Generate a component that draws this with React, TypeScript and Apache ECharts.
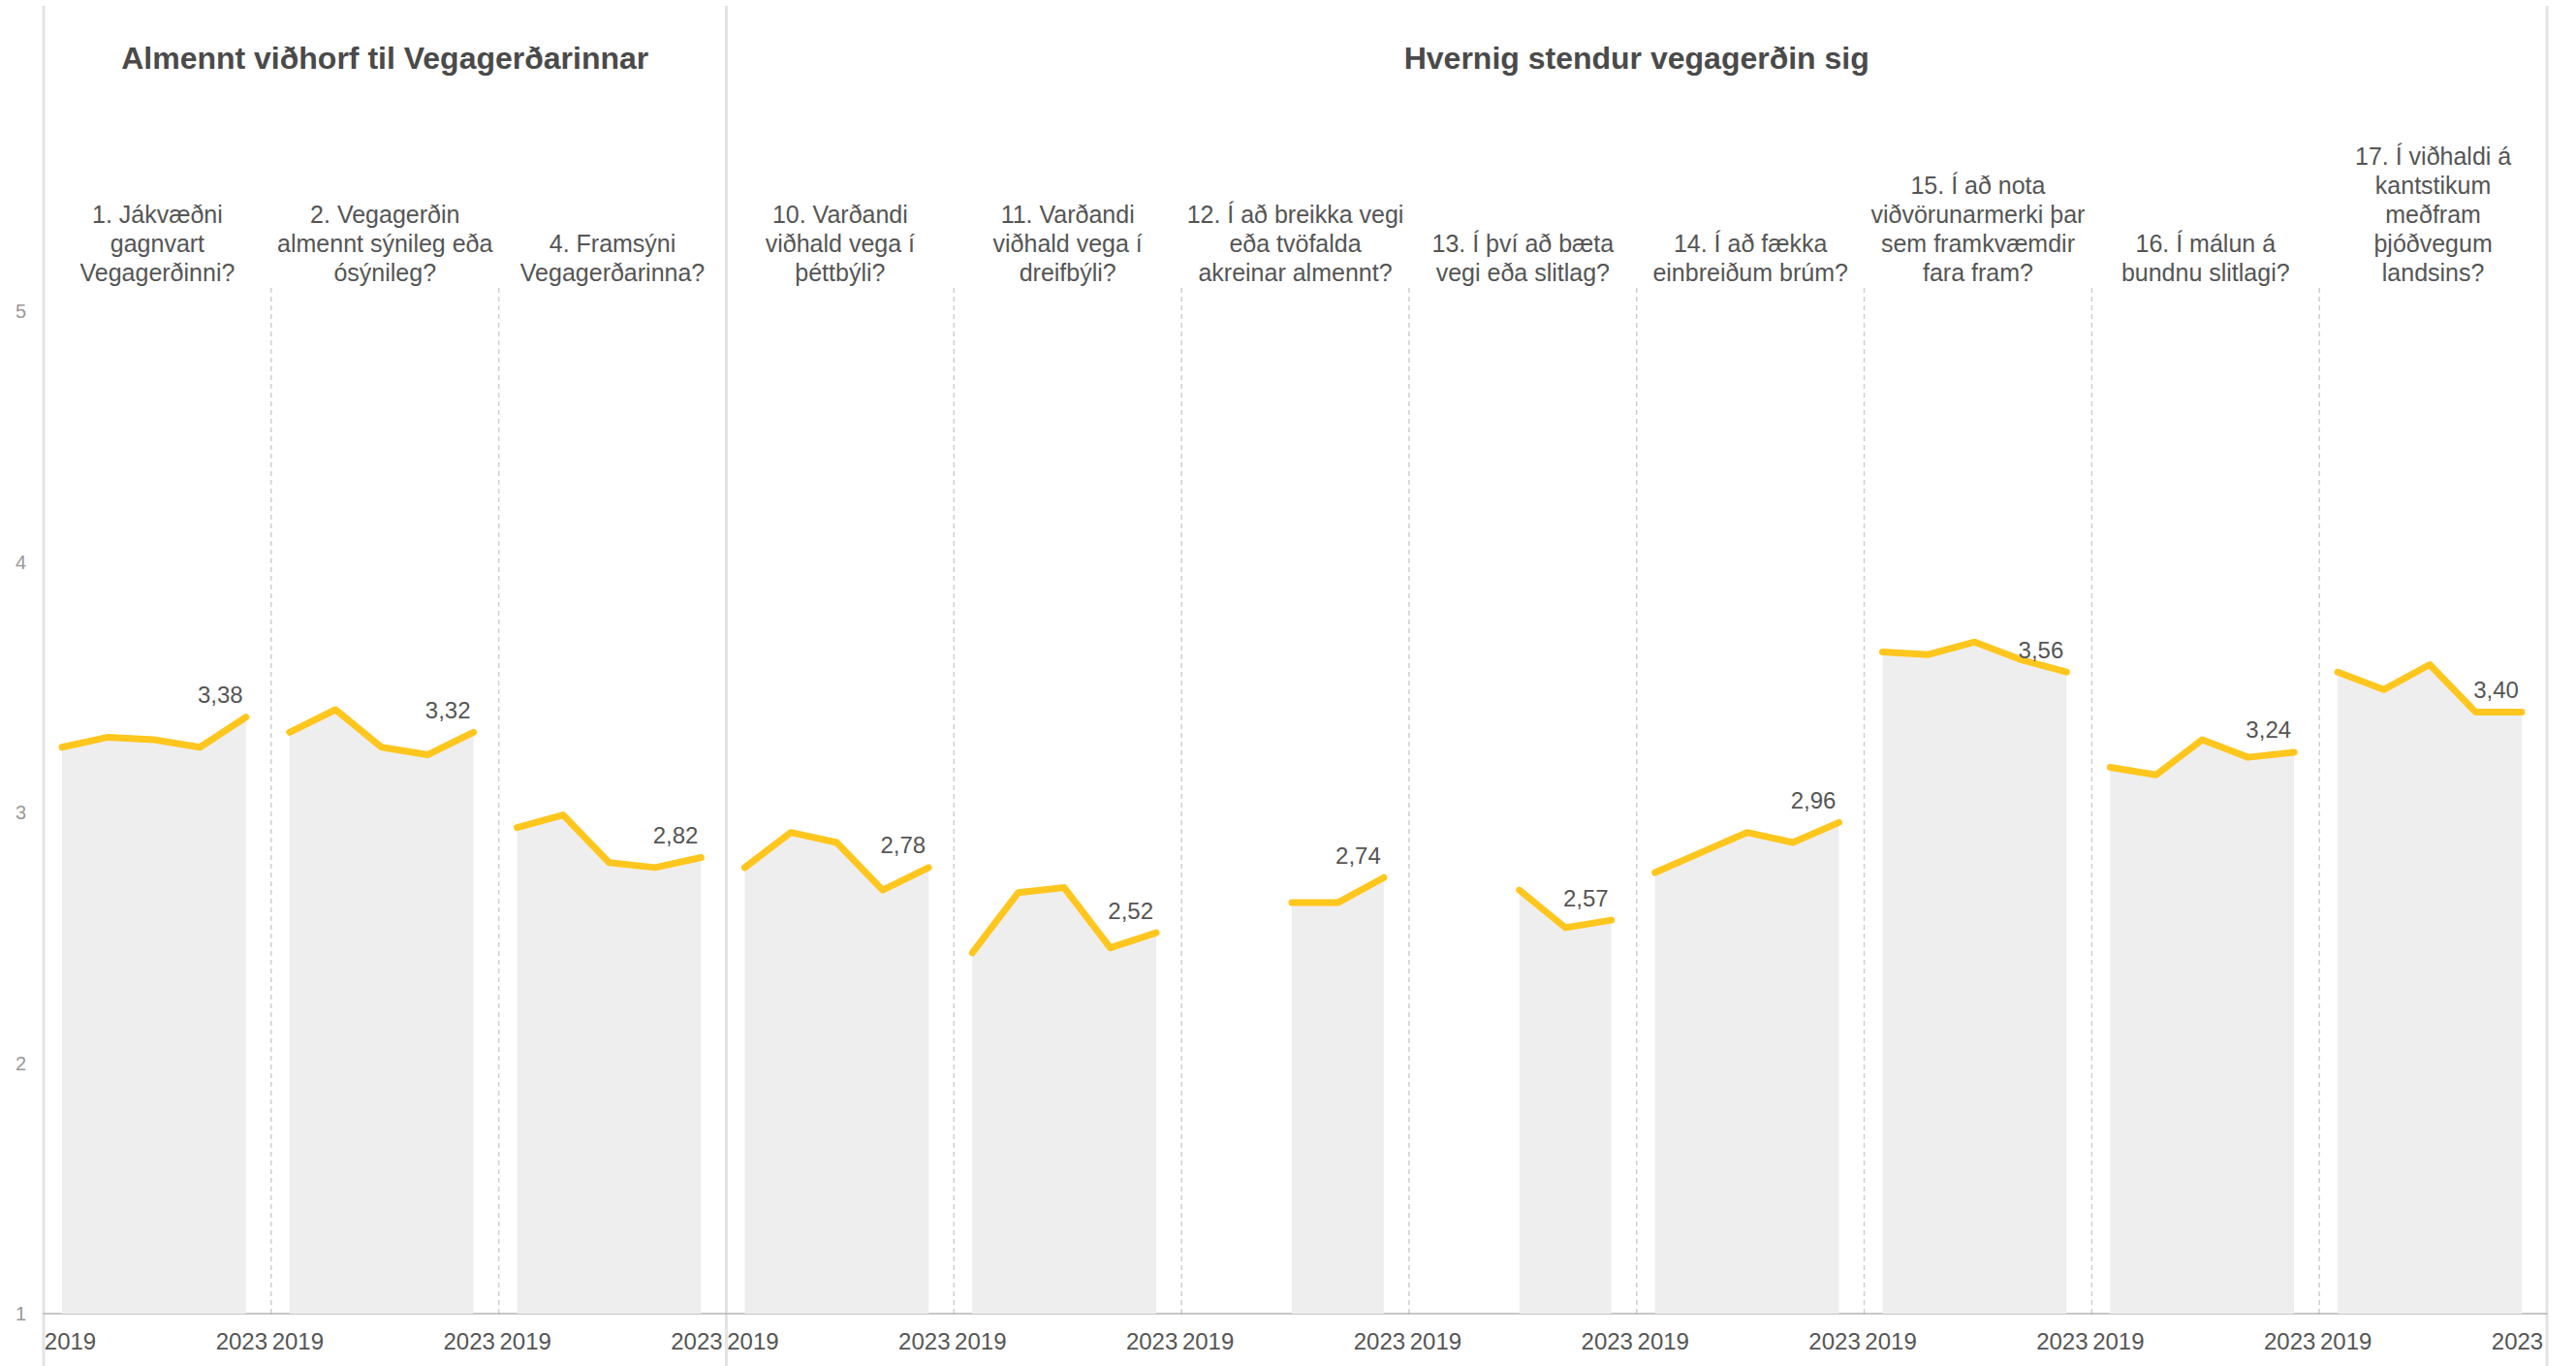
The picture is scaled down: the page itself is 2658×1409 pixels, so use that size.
import React, { useEffect, useRef } from "react";
import * as echarts from "echarts";

const YEARS = [2019, 2020, 2021, 2022, 2023];
const QUESTIONS = [
  "1. Jákvæðni\ngagnvart\nVegagerðinni?",
  "2. Vegagerðin\nalmennt sýnileg eða\nósýnileg?",
  "4. Framsýni\nVegagerðarinna?",
  "10. Varðandi\nviðhald vega í\nþéttbýli?",
  "11. Varðandi\nviðhald vega í\ndreifbýli?",
  "12. Í að breikka vegi\neða tvöfalda\nakreinar almennt?",
  "13. Í því að bæta\nvegi eða slitlag?",
  "14. Í að fækka\neinbreiðum brúm?",
  "15. Í að nota\nviðvörunarmerki þar\nsem framkvæmdir\nfara fram?",
  "16. Í málun á\nbundnu slitlagi?",
  "17. Í viðhaldi á\nkantstikum\nmeðfram\nþjóðvegum\nlandsins?",
];
const GROUP_TITLES = ["Almennt viðhorf til Vegagerðarinnar", "Hvernig stendur vegagerðin sig"];
const GROUP_SIZES = [3, 8];

const V1 = [3.26, 3.3, 3.29, 3.26, 3.38];
const V2 = [3.32, 3.41, 3.26, 3.23, 3.32];
const V4 = [2.94, 2.99, 2.8, 2.78, 2.82];
const V10 = [2.78, 2.92, 2.88, 2.69, 2.78];
const V11 = [2.44, 2.68, 2.7, 2.46, 2.52];
const V12 = [null, null, 2.64, 2.64, 2.74];
const V13 = [null, null, 2.69, 2.54, 2.57];
const V14 = [2.76, 2.84, 2.92, 2.88, 2.96];
const V15 = [3.64, 3.63, 3.68, 3.61, 3.56];
const V16 = [3.18, 3.15, 3.29, 3.22, 3.24];
const V17 = [3.56, 3.49, 3.59, 3.4, 3.4];
const SERIES_VALUES = [V1, V2, V4, V10, V11, V12, V13, V14, V15, V16, V17];

const Y_TICKS = [1, 2, 3, 4, 5];

const FONT = "'Liberation Sans', Arial, sans-serif";
const YELLOW = "#FFC61E";

export default function App() {
  const ref = useRef<HTMLDivElement>(null);
  useEffect(() => {
    if (!ref.current) return;
    const chart = echarts.init(ref.current, undefined, { renderer: "svg" });

    const H = 1409;
    const L0 = 45;
    const R0 = 2628;
    const n = SERIES_VALUES.length;
    const pw = (R0 - L0) / n;
    const top = 321;
    const bottom = 54;
    const xMin = 2018.6;
    const xMax = 2023.55;
    const step = pw / (xMax - xMin);
    const lab1 = xMin + 27.5 / step;
    const lab2 = xMax - 30.5 / step;

    const grids: any[] = [];
    const xAxes: any[] = [];
    const yAxes: any[] = [];
    const series: any[] = [];
    const graphics: any[] = [];

    SERIES_VALUES.forEach((vals, i) => {
      const left = L0 + i * pw;
      grids.push({ left, width: pw, top, bottom, containLabel: false });
      xAxes.push({
        type: "value",
        gridIndex: i,
        min: xMin,
        max: xMax,
        axisLine: { show: true, lineStyle: { color: "#b5b5b5", width: 1.5 } },
        axisTick: { show: false },
        splitLine: { show: false },
        axisLabel: {
          show: true,
          customValues: [lab1, lab2],
          formatter: (v: number) => (v < 2021 ? String(YEARS[0]) : String(YEARS[YEARS.length - 1])),
          fontSize: 24,
          fontFamily: FONT,
          color: "#555",
          margin: 16,
        },
      });
      yAxes.push({
        type: "value",
        gridIndex: i,
        min: Y_TICKS[0],
        max: Y_TICKS[Y_TICKS.length - 1],
        interval: 1,
        axisLine: { show: false },
        axisTick: { show: false },
        splitLine: { show: false },
        axisLabel: {
          show: i === 0,
          fontSize: 20,
          fontFamily: FONT,
          color: "#999",
          margin: 18,
        },
      });
      const data: any[] = [];
      const lastIdx = vals.length - 1;
      vals.forEach((v, j) => {
        if (v == null) return;
        const item: any = { value: [YEARS[j], v] };
        if (j === lastIdx) {
          item.label = {
            show: true,
            position: "top",
            align: "right",
            offset: [-3, -5],
            formatter: (p: any) => p.value[1].toFixed(2).replace(".", ","),
            fontSize: 24,
            fontFamily: FONT,
            color: "#555",
          };
        }
        data.push(item);
      });
      series.push({
        type: "line",
        xAxisIndex: i,
        yAxisIndex: i,
        data,
        symbol: "circle",
        symbolSize: 2,
        showSymbol: true,
        itemStyle: { color: YELLOW },
        lineStyle: { color: YELLOW, width: 7, cap: "round", join: "round" },
        areaStyle: { color: "#EEEEEE", opacity: 1, origin: "start" },
        label: { show: false },
        silent: true,
      });

      graphics.push({
        type: "text",
        x: left + pw / 2,
        y: 296,
        style: {
          text: QUESTIONS[i],
          fontSize: 25,
          fontFamily: FONT,
          fill: "#555",
          align: "center",
          verticalAlign: "bottom",
          lineHeight: 30,
        },
      });
    });

    // separators
    const solidIdx = [0, GROUP_SIZES[0], n];
    for (let b = 0; b <= n; b++) {
      const x = b === n ? R0 : L0 + b * pw;
      if (solidIdx.includes(b)) {
        graphics.push({
          type: "line",
          shape: { x1: x, y1: 6, x2: x, y2: H },
          style: { stroke: "#e3e3e3", lineWidth: 3 },
        });
      } else {
        graphics.push({
          type: "line",
          shape: { x1: x, y1: 297, x2: x, y2: H - bottom },
          style: { stroke: "#cfcfcf", lineWidth: 1.5, lineDash: [5, 4] },
        });
      }
    }

    // group titles
    let start = 0;
    GROUP_SIZES.forEach((g, k) => {
      const x1 = L0 + start * pw;
      const x2 = L0 + (start + g) * pw;
      graphics.push({
        type: "text",
        x: (x1 + x2) / 2,
        y: 60,
        style: {
          text: GROUP_TITLES[k],
          fontSize: 32,
          fontWeight: "bold",
          fontFamily: FONT,
          fill: "#4a4a4a",
          align: "center",
          verticalAlign: "middle",
        },
      });
      start += g;
    });

    chart.setOption({
      animation: false,
      backgroundColor: "#fff",
      grid: grids,
      xAxis: xAxes,
      yAxis: yAxes,
      series,
      graphic: graphics,
    });
    return () => chart.dispose();
  }, []);
  return (
    <div
      ref={ref}
      style={{ position: "fixed", left: 0, top: 0, width: 2658, height: 1409 }}
    />
  );
}
